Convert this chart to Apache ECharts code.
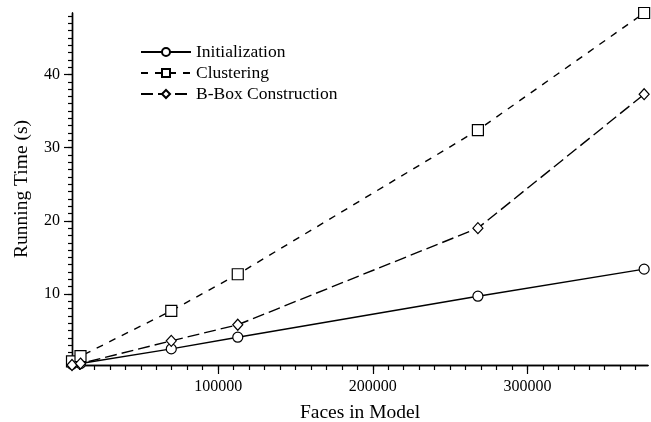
<!DOCTYPE html>
<html>
<head>
<meta charset="utf-8">
<script src="https://cdn.jsdelivr.net/npm/echarts@6/dist/echarts.min.js"></script>
<style>html,body{margin:0;padding:0;background:#fff;}#c{width:651px;height:422px;}</style>
</head>
<body>
<div id="c"></div>
<script>
// ---- data ----
const facesInModel = [5500, 11000, 69700, 112700, 268000, 375500];
const initialization = [0.4, 0.5, 2.5, 4.1, 9.7, 13.4];
const clustering = [0.8, 1.5, 7.7, 12.7, 32.4, 48.4];
const bboxConstruction = [0.3, 0.5, 3.6, 5.8, 19.0, 37.3];
const seriesNames = ['Initialization', 'Clustering', 'B-Box Construction'];
const xTickLabels = [100000, 200000, 300000];
const yTickLabels = [10, 20, 30, 40];
const xRange = [5500, 378000];
const yRange = [0.3, 48.4];

// minor tick positions derived from axis range
const xMinor = [];
for (let v = 10000; v <= xRange[1]; v += 10000) xMinor.push(v);
const yMinor = [];
for (let v = 1; v <= yRange[1]; v += 1) yMinor.push(v);

const FONT = 'Liberation Serif';
const pairs = ys => facesInModel.map((x, i) => [x, ys[i]]);

const chart = echarts.init(document.getElementById('c'), null, {renderer: 'canvas'});
const axisLineStyle = {color: '#000', width: 1.4};

function xAxisDef(ticks, len, showLabel, name) {
  return {
    type: 'value', min: xRange[0], max: xRange[1], position: 'bottom',
    splitLine: {show: false},
    axisLine: {show: true, onZero: false, lineStyle: axisLineStyle},
    axisTick: {show: true, inside: false, length: len, customValues: ticks, lineStyle: {color: '#000', width: 1.2}},
    axisLabel: {show: showLabel, customValues: xTickLabels, margin: 14, color: '#000', fontFamily: FONT, fontSize: 16,
      formatter: v => String(v)},
    name: name, nameLocation: 'middle', nameGap: 38,
    nameTextStyle: {color: '#000', fontFamily: FONT, fontSize: 19.5}
  };
}
function yAxisDef(ticks, len, showLabel, name) {
  return {
    type: 'value', min: yRange[0], max: yRange[1], position: 'left',
    splitLine: {show: false},
    axisLine: {show: true, onZero: false, lineStyle: axisLineStyle},
    axisTick: {show: true, inside: false, length: len, customValues: ticks, lineStyle: {color: '#000', width: 1.2}},
    axisLabel: {show: showLabel, customValues: yTickLabels, margin: 12, color: '#000', fontFamily: FONT, fontSize: 16,
      formatter: v => String(v)},
    name: name, nameLocation: 'middle', nameGap: 40, nameRotate: 90,
    nameTextStyle: {color: '#000', fontFamily: FONT, fontSize: 19.5}
  };
}

const common = {
  type: 'line', symbolKeepAspect: true, clip: false, animation: false,
  itemStyle: {color: '#fff', borderColor: '#000', borderWidth: 1.2}
};

chart.setOption({
  animation: false,
  backgroundColor: '#fff',
  grid: {left: 72, right: 3, top: 13, bottom: 57, containLabel: false, outerBoundsMode: 'none'},
  legend: {
    orient: 'vertical', left: 140, top: 43, padding: 0, itemWidth: 50, itemHeight: 10, itemGap: 3,
    textStyle: {color: '#000', fontFamily: FONT, fontSize: 17.5},
    data: seriesNames
  },
  xAxis: [xAxisDef(xMinor, 5, false, ''), xAxisDef(xTickLabels, 9, true, 'Faces in Model')],
  yAxis: [yAxisDef(yMinor, 4, false, ''), yAxisDef(yTickLabels, 8, true, 'Running Time (s)')],
  series: [
    Object.assign({}, common, {
      name: seriesNames[0], data: pairs(initialization), symbol: 'circle', symbolSize: 10,
      lineStyle: {color: '#000', width: 1.4, type: 'solid'}
    }),
    Object.assign({}, common, {
      name: seriesNames[1], data: pairs(clustering), symbol: 'rect', symbolSize: 11,
      lineStyle: {color: '#000', width: 1.4, type: [7, 7]}
    }),
    Object.assign({}, common, {
      name: seriesNames[2], data: pairs(bboxConstruction), symbol: 'diamond', symbolSize: [10, 11],
      lineStyle: {color: '#000', width: 1.4, type: [12, 5]}
    })
  ]
});
</script>
</body>
</html>
